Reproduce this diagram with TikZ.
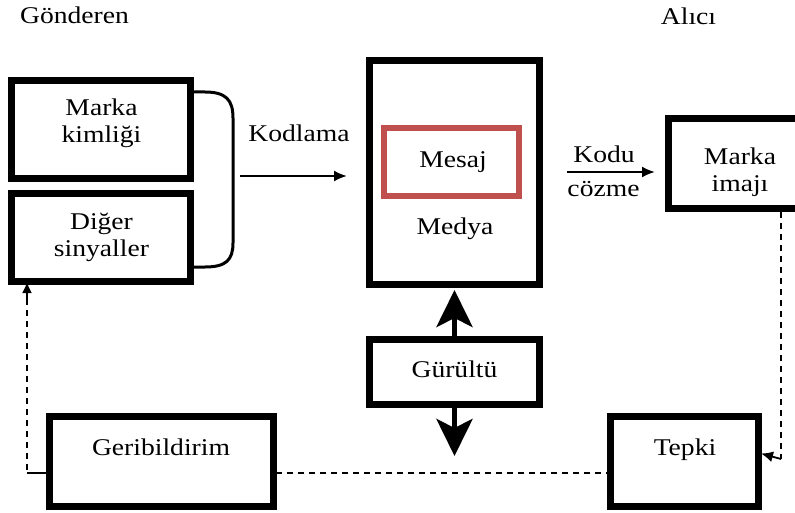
\documentclass[tikz,border=0pt]{standalone}
\usepackage{fontspec}
\setmainfont{Liberation Serif}[FakeStretch=1.15]
\usetikzlibrary{arrows.meta}
\definecolor{msgred}{HTML}{C0504D}
\tikzset{
  box/.style={draw, line width=7pt, fill=white, inner sep=0pt},
  redbox/.style={draw=msgred, line width=6pt, fill=white, inner sep=0pt},
  txt/.style={font=\fontsize{24}{27}\selectfont, inner sep=0pt, align=center, anchor=base},
  thinarrow/.style={line width=2pt, -{Latex[length=13pt,width=11pt]}},
  bigarrow/.style={line width=5.5pt, -{Stealth[length=37pt,width=36pt,inset=9pt]}},
  dashline/.style={line width=1.8pt, dash pattern=on 6pt off 5pt},
}
\begin{document}
\begin{tikzpicture}[x=1pt,y=-1pt]
\useasboundingbox (0,0) rectangle (795,513);
\coordinate (rtop) at (781,212);
\coordinate (rbend) at (781,459);
\coordinate (bl) at (27,473);
\coordinate (br) at (700,473);

% boxes
\node[box, minimum width=179pt, minimum height=98pt] (mk) at (101,129.5) {};
\node[box, minimum width=179pt, minimum height=88pt] (ds) at (101,237.5) {};
\node[box, minimum width=170pt, minimum height=224pt] (medya) at (454.5,172.5) {};
\node[redbox, minimum width=135pt, minimum height=68pt] (mesaj) at (451.5,162) {};
\node[box, minimum width=143pt, minimum height=90pt] (imaj) at (740,163.5) {};
\node[box, minimum width=170pt, minimum height=65pt] (gur) at (454.5,372) {};

\draw[dashline] (br) -- (bl |- br);
\node[box, minimum width=148pt, minimum height=90pt] (tepki) at (684.5,461.5) {};
\node[box, minimum width=224pt, minimum height=90pt] (geri) at (161.5,461.5) {};
\draw[dashline] (geri.west |- bl) -- (bl) -- (bl |- ds.south);
\draw[line width=1.8pt, -{Latex[length=11pt,width=10pt]}] (bl |- 0,300) -- ([yshift=3pt]bl |- ds.south);
\draw[dashline] (rtop) -- (rbend);
\draw[line width=1.8pt, -{Latex[length=12pt,width=11pt]}] (rbend) -- ([yshift=8pt,xshift=-1pt]tepki.east);

% bracket
\coordinate (bt) at (194,92);
\coordinate (bb) at (194,267);
\draw[line width=3pt] (bt) -- (205,92) .. controls (226,92) and (233,100) .. (233,118)
   -- (233,243) .. controls (233,260) and (226,267) .. (205,267) -- (bb);

% arrows
\coordinate (kodstart) at (240,176);
\draw[thinarrow, shorten >=19pt] (kodstart) -- (kodstart -| medya.west);
\coordinate (cozstart) at (567,172);
\draw[thinarrow, shorten >=10pt] (cozstart) -- (cozstart -| imaj.west);
\draw[bigarrow, shorten >=2pt] (gur.north) -- (medya.south);
\coordinate (downtip) at (454.5,456);
\draw[bigarrow] (gur.south) -- (downtip);

% texts
\node[txt] (tgond) at (74.5,24) {Gönderen};
\node[txt] (talici) at (688.5,25) {Alıcı};
\node[txt] (tmk) at (101.5,143) {Marka\\kimliği};
\node[txt] (tds) at (101.5,256) {Diğer\\sinyaller};
\node[txt] (tkod) at (299,142) {Kodlama};
\node[txt] (tmes) at (453,168) {Mesaj};
\node[txt] (tmed) at (455,235) {Medya};
\node[txt] (tkodu) at (604,163) {Kodu};
\node[txt] (tcoz) at (603.5,197) {cözme};
\node[txt] (timaj) at (740,192) {Marka\\imajı};
\node[txt] (tgur) at (454.5,377) {Gürültü};
\node[txt] (tgeri) at (161,455) {Geribildirim};
\node[txt] (ttep) at (685,455) {Tepki};
\end{tikzpicture}
\end{document}
